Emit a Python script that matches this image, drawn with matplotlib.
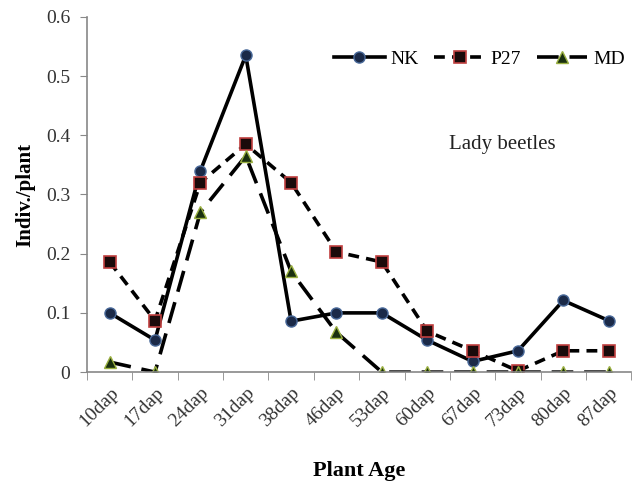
import matplotlib
matplotlib.use("Agg")
import matplotlib.pyplot as plt
import numpy as np

plt.rcParams['font.family'] = ['Liberation Serif', 'DejaVu Serif']

categories = ["10dap", "17dap", "24dap", "31dap", "38dap", "46dap", "53dap",
              "60dap", "67dap", "73dap", "80dap", "87dap"]
nk = [0.10, 0.054, 0.34, 0.535, 0.086, 0.10, 0.10, 0.054, 0.018, 0.036, 0.121, 0.087]
p27 = [0.186, 0.087, 0.32, 0.385, 0.32, 0.203, 0.186, 0.069, 0.036, 0.002, 0.036, 0.036]
md = [0.017, 0.0, 0.27, 0.365, 0.17, 0.067, 0.0, 0.0, 0.0, 0.0, 0.0, 0.0]
yticks = [0, 0.1, 0.2, 0.3, 0.4, 0.5, 0.6]
ytick_labels = ["0", "0.1", "0.2", "0.3", "0.4", "0.5", "0.6"]

fig = plt.figure(figsize=(6.33, 4.82), dpi=100)
ax = fig.add_axes([0.1374, 0.228, 0.86, 0.737])
x = np.arange(len(categories))

ax.plot(x, nk, color='black', lw=2.6, linestyle='-', marker='o', markersize=8,
        markerfacecolor='#1b2a48', markeredgecolor='#4a6a9a', markeredgewidth=1, label='NK')
ax.plot(x, p27, color='black', lw=2.6, linestyle=(0, (3, 2)), marker='s', markersize=8,
        markerfacecolor='#1a0a0a', markeredgecolor='#c04040', markeredgewidth=1.2, label='P27')
ax.plot(x, md, color='black', lw=2.6, linestyle=(0, (6, 3)), marker='^', markersize=8,
        markerfacecolor='#1a3010', markeredgecolor='#9ab040', markeredgewidth=1, label='MD')

ax.set_xlim(-0.5, len(categories) - 0.5)
ax.set_ylim(0, 0.6)
ax.set_yticks(yticks)
ax.set_yticklabels(ytick_labels, fontsize=14, color='#333333')
ax.set_xticks(x)
ax.set_xticklabels(categories, rotation=45, ha='right', rotation_mode='anchor',
                   fontsize=14, color='#333333')
ax.tick_params(axis='x', length=0, pad=9)
ax.set_xticks(np.arange(-0.5, len(categories), 1.0), minor=True)
ax.tick_params(axis='x', which='minor', length=6, color='#888888', direction='out')
ax.tick_params(axis='y', length=5, color='#888888', direction='out', pad=7)

for s in ['top', 'right']:
    ax.spines[s].set_visible(False)
for s in ['left', 'bottom']:
    ax.spines[s].set_color('#888888')
    ax.spines[s].set_linewidth(1.2)

ax.set_ylabel('Indiv./plant', fontsize=15, fontweight='bold', labelpad=8)
ax.set_xlabel('Plant Age', fontsize=16, fontweight='bold', labelpad=22)

ax.text(8.65, 0.385, 'Lady beetles', fontsize=15, ha='center', va='center', color='#222222')

ax.legend(loc='upper right', bbox_to_anchor=(1.02, 0.955), ncol=3, frameon=False,
          fontsize=14, handlelength=2.6, columnspacing=0.8, handletextpad=0.3)

fig.savefig('out.png', dpi=100)
